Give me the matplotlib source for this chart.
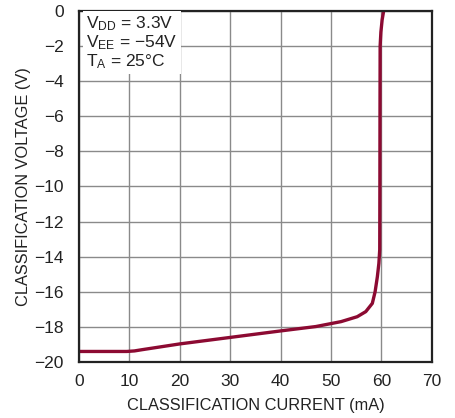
import matplotlib
matplotlib.use("Agg")
import matplotlib.pyplot as plt

plt.rcParams['font.family'] = ['Liberation Sans Narrow', 'Liberation Sans', 'DejaVu Sans']
plt.rcParams['mathtext.fontset'] = 'custom'
plt.rcParams['mathtext.rm'] = 'Liberation Sans'
plt.rcParams['mathtext.it'] = 'Liberation Sans'

# classification current (mA) vs classification voltage (V)
current = [0, 9.5, 11, 12.5, 20, 30, 40, 47, 52, 55.2, 56.9, 58.2, 58.75,
           59.2, 59.5, 59.67, 59.7, 59.72, 59.75, 59.9, 60.15, 60.45]
voltage = [-19.4, -19.4, -19.37, -19.3, -18.97, -18.6, -18.23, -17.98, -17.7,
           -17.42, -17.13, -16.66, -16.0, -15.14, -14.38, -13.6, -10, -6,
           -2.0, -1.2, -0.5, 0]

xticks = [0, 10, 20, 30, 40, 50, 60, 70]
yticks = [0, -2, -4, -6, -8, -10, -12, -14, -16, -18, -20]

fig = plt.figure(figsize=(4.55, 4.18), dpi=100)
ax = fig.add_axes([0.1736, 0.134, 0.7754, 0.8397])

ax.plot(current, voltage, color='#8c0a32', lw=2.4, solid_capstyle='round')

ax.set_xlim(0, 70)
ax.set_ylim(-20, 0)
ax.set_xticks(xticks)
ax.set_yticks(yticks)
ax.grid(True, color='#8a8a8a', lw=1.0)
ax.set_axisbelow(True)
ax.tick_params(length=0, labelsize=12.5, colors='#222222')
ax.tick_params(axis='x', pad=9)
ax.tick_params(axis='y', pad=11)
for s in ax.spines.values():
    s.set_color('#222222')
    s.set_linewidth(1.6)

ax.set_xlabel('CLASSIFICATION CURRENT (mA)', fontsize=11.8, color='#222222', labelpad=6)
ax.set_ylabel('CLASSIFICATION VOLTAGE (V)', fontsize=11.8, color='#222222', labelpad=2)

ax.text(0.02, 0.99,
        '$\\mathrm{V_{DD}}$ = 3.3V\n$\\mathrm{V_{EE}}$ = \u221254V\n$\\mathrm{T_{A}}$ = 25\u00b0C',
        transform=ax.transAxes, ha='left', va='top', fontsize=12.5,
        color='#222222', linespacing=1.0,
        bbox=dict(boxstyle='square,pad=0.2', fc='white', ec='none'))

fig.savefig('out.png', dpi=100)
